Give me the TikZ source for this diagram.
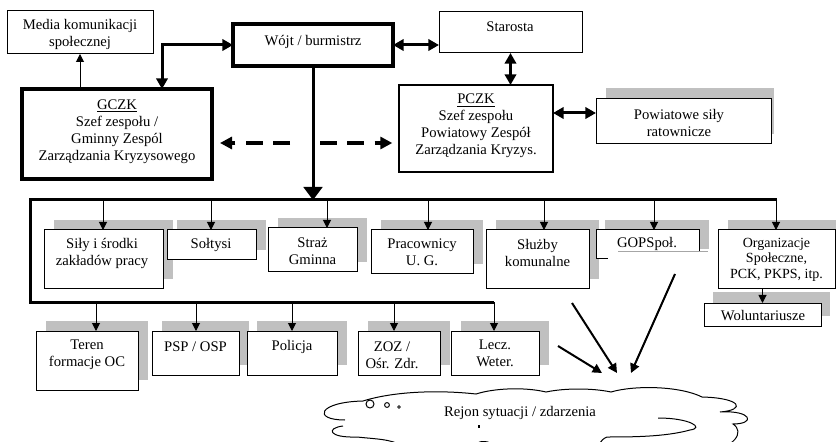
\documentclass[tikz,border=0pt]{standalone}
\usepackage{fontspec}
\setmainfont{Liberation Serif}
\usetikzlibrary{arrows.meta,calc}
\definecolor{shadowgray}{RGB}{192,192,192}

\tikzset{
  boxst/.style={draw, line width=0.75pt, fill=white, inner sep=0pt, outer sep=0pt},
  heavybox/.style={boxst, line width=2.5pt},
  txt/.style={align=center, inner sep=0pt, font=\fontsize{11}{12.75}\selectfont},
  smalltxt/.style={txt, font=\fontsize{10.5}{11.6}\selectfont},
  thinarr/.style={line width=0.75pt, -{Triangle[length=6pt,width=6pt]}},
  heavyline/.style={line width=2.25pt},
  heavydbl/.style={line width=2.25pt, {Triangle[length=8pt,width=8.5pt]}-{Triangle[length=8pt,width=8.5pt]}},
  dasharr/.style={line width=2.5pt, dash pattern=on 12.5pt off 8pt, -{Triangle[length=9pt,width=9pt]}},
  droparr/.style={line width=2.25pt, -{Triangle[length=9.75pt,width=14pt]}},
  cloudarr/.style={line width=1.5pt, -{Triangle[length=7pt,width=7pt]}},
  cloudline/.style={line width=0.75pt},
}

% [options]{x1}{y1}{x2}{y2}{name}: an empty framed box between two corners
\newcommand\panel[6][]{%
  \node[boxst,#1,minimum width={(#4-#2)*0.75pt},minimum height={(#5-#3)*0.75pt}]
    (#6) at ({(#2+#4)/2},{(#3+#5)/2}) {};}
% grey drop block behind a box
\newcommand\shadowrect[4]{\fill[shadowgray] (#1,#2) rectangle (#3,#4);}

\begin{document}
\begin{tikzpicture}[x=0.75pt,y=-0.75pt]
\useasboundingbox (0,0) rectangle (836,442);
\clip (0,0) rectangle (836,442);

% ---- grey blocks behind the boxes
\shadowrect{606}{88}{774}{134}
\shadowrect{54}{220}{173}{279}
\shadowrect{177}{220}{266}{250}
\shadowrect{278}{218}{367}{262}
\shadowrect{381}{220}{483}{264}
\shadowrect{496}{220}{599}{279}
\shadowrect{605}{220}{709}{249}
\shadowrect{728}{220}{845}{279}
\shadowrect{713}{292}{830}{316}
\shadowrect{46}{321}{148}{380}
\shadowrect{162}{321}{249}{365}
\shadowrect{257}{321}{347}{365}
\shadowrect{368}{321}{450}{365}
\shadowrect{461}{321}{549}{365}

% ---- boxes
\panel{7}{11}{153}{54}{media}
\panel[heavybox]{233}{24}{393}{66}{wojt}
\panel{439}{12}{582}{53}{starosta}
\panel[heavybox]{22}{89}{212}{179}{gczk}
\panel[line width=1pt]{399}{85}{553}{172}{pczk}
\panel{596}{99}{771}{144}{powiat}
\panel{44}{230}{163}{289}{sily}
\panel{167}{230}{256}{260}{soltysi}
\panel{268}{228}{357}{272}{straz}
\panel{371}{230}{473}{274}{pracownicy}
\panel{486}{230}{589}{289}{sluzby}
\panel[draw=none]{596}{230}{699}{259}{gops}
\panel{718}{230}{835}{289}{org}
\panel{704}{303}{821}{326}{wol}
\panel{36}{331}{138}{390}{teren}
\panel{152}{331}{239}{375}{psp}
\panel{247}{331}{337}{375}{policja}
\panel{358}{331}{440}{375}{zoz}
\panel{451}{331}{539}{375}{lecz}

% the GOPS box has an open lower edge
\draw[line width=0.75pt] (gops.south west) -- (gops.north west) -- (gops.north east)
  -- ($(gops.north east)!0.75!(gops.south east)$);
\draw[line width=0.75pt] (gops.south west) -- ++(12,0);
\draw[gray!70, line width=0.5pt] ($(gops.south west)+(22,-8)$) -- ++(90,0);

% ---- texts
\node[txt] (mediaT) at (80,34.5) {Media komunikacji\\społecznej};
\node[txt] (wojtT) at (313,42) {Wójt / burmistrz};
\node[txt] (starostaT) at (510,27) {Starosta};
\node[txt] (gczkT) at (117,131.5) {\underline{GCZK}\\Szef zespołu /\\Gminny Zespól\\Zarządzania Kryzysowego};
\node[txt] (pczkT) at (476,126) {\underline{PCZK}\\Szef zespołu\\Powiatowy Zespół\\Zarządzania Kryzys.};
\node[txt] (powiatT) at (679,123) {Powiatowe siły\\ratownicze};
\node[txt] (silyT) at (102,253.5) {Siły i środki\\zakładów pracy};
\node[txt] (soltysiT) at (211,245) {Sołtysi};
\node[txt] (strazT) at (312.5,251.5) {Straż\\Gminna};
\node[txt] (pracownicyT) at (422,252.5) {Pracownicy\\U. G.};
\node[txt] (sluzbyT) at (537.5,253) {Służby\\komunalne};
\node[txt] (gopsT) at (647,244) {GOPSpoł.};
\node[smalltxt] (orgT) at (776.5,259.5) {Organizacje\\Społeczne,\\PCK, PKPS, itp.};
\node[txt] (wolT) at (763,316) {Woluntariusze};
\node[txt] (terenT) at (87,355) {Teren\\formacje OC};
\node[txt] (pspT) at (195.5,347) {PSP / OSP};
\node[txt] (policjaT) at (292,347) {Policja};
\node[txt] (zozT) at (392,355) {ZOZ /\\Ośr. Zdr.};
\node[txt] (leczT) at (495,353) {Lecz.\\Weter.};

% ---- upper links
\coordinate (gk) at (162,0);
\draw[heavydbl] (wojt.west) -| (gczk.north -| gk);
\draw[thinarr] (media.south |- gczk.north) -- (media.south);
\draw[heavydbl] (wojt.east) -- (wojt.east -| starosta.west);
\draw[heavydbl] (starosta.south) -- (starosta.south |- pczk.north);
\coordinate (py) at (0,113);
\draw[heavydbl] (pczk.east |- py) -- (powiat.west |- py);
\coordinate (dl) at (290,143);
\coordinate (dr) at (320,143);
\draw[dasharr, shorten >=6pt] (dl) -- (dl -| gczk.east);
\draw[dasharr, shorten >=5pt] (dr) -- (dr -| pczk.west);

% ---- distribution frame
\coordinate (fTL) at (30,200);
\coordinate (fTR) at (777,200);
\coordinate (fBL) at (30,302);
\coordinate (fBR) at (494,302);
\draw[heavyline] (fTR) -- (fTL) -- (fBL) -- (fBR);
\draw[droparr] (wojt.south) -- (wojt.south |- fTL);

% feet of the branch arrows
\coordinate (xSily) at (103,0);
\coordinate (xSoltysi) at (211,0);
\coordinate (xStraz) at (327,0);
\coordinate (xPrac) at (428,0);
\coordinate (xSluzby) at (544,0);
\coordinate (xGops) at (654,0);
\coordinate (xOrg) at (776,0);
\coordinate (xTeren) at (96,0);
\coordinate (xPsp) at (196,0);
\coordinate (xPolicja) at (292,0);
\coordinate (xZoz) at (394,0);

\draw[thinarr] (xSily |- fTL) -- (xSily |- sily.north);
\draw[thinarr] (xSoltysi |- fTL) -- (xSoltysi |- soltysi.north);
\draw[thinarr] (xStraz |- fTL) -- (xStraz |- straz.north);
\draw[thinarr] (xPrac |- fTL) -- (xPrac |- pracownicy.north);
\draw[thinarr] (xSluzby |- fTL) -- (xSluzby |- sluzby.north);
\draw[thinarr] (xGops |- fTL) -- (xGops |- gops.north);
\draw[thinarr] (xOrg |- fTL) -- (xOrg |- org.north);
\draw[thinarr] (xTeren |- fBL) -- (xTeren |- teren.north);
\draw[thinarr] (xPsp |- fBL) -- (xPsp |- psp.north);
\draw[thinarr] (xPolicja |- fBL) -- (xPolicja |- policja.north);
\draw[thinarr] (xZoz |- fBL) -- (xZoz |- zoz.north);
\draw[thinarr] (fBR) -- (fBR |- lecz.north);
\draw[thinarr] (wol.north |- org.south) -- (wol.north);

% ---- arrows into the incident area
\coordinate (c1s) at (558,346); \coordinate (c1e) at (602,373);
\coordinate (c2s) at (572,303); \coordinate (c2e) at (617,373);
\coordinate (c3s) at (675,274); \coordinate (c3e) at (631,373);
\draw[cloudarr] (c1s) -- (c1e);
\draw[cloudarr] (c2s) -- (c2e);
\draw[cloudarr] (c3s) -- (c3e);

% ---- cloud
\draw[cloudline] (363,401) .. controls (395,391) and (440,390) .. (476,394)
  .. controls (495,388) and (525,387) .. (546,392)
  .. controls (565,388) and (592,388) .. (611,392)
  .. controls (635,385) and (680,386) .. (702,397)
  .. controls (742,398) and (746,410) .. (720,412)
  .. controls (752,410) and (756,424) .. (733,424)
  .. controls (745,432) and (735,448) .. (705,452);
\draw[cloudline] (658,418) .. controls (690,418) and (705,428) .. (690,430)
  .. controls (665,437) and (630,437) .. (607,437)
  .. controls (600,440) and (598,445) .. (598,452);
\draw[cloudline] (472,448) .. controls (478,440) and (486,440) .. (492,444);
\draw[cloudline] (363,401) .. controls (318,402) and (312,420) .. (345,420);
\draw[cloudline] (343,426) .. controls (326,428) and (328,438) .. (357,437)
  .. controls (375,439) and (392,439) .. (402,446);
\draw[cloudline] (370,404) circle [radius=3pt];
\draw[cloudline] (387,405) circle [radius=1.8pt];
\draw[cloudline, line width=0.6pt] (399,407) circle [radius=1pt];
\draw[line width=0.9pt] (479,425) -- (479,428);
\node[txt] (rejon) at (520,413) {Rejon sytuacji / zdarzenia};
\end{tikzpicture}
\end{document}
